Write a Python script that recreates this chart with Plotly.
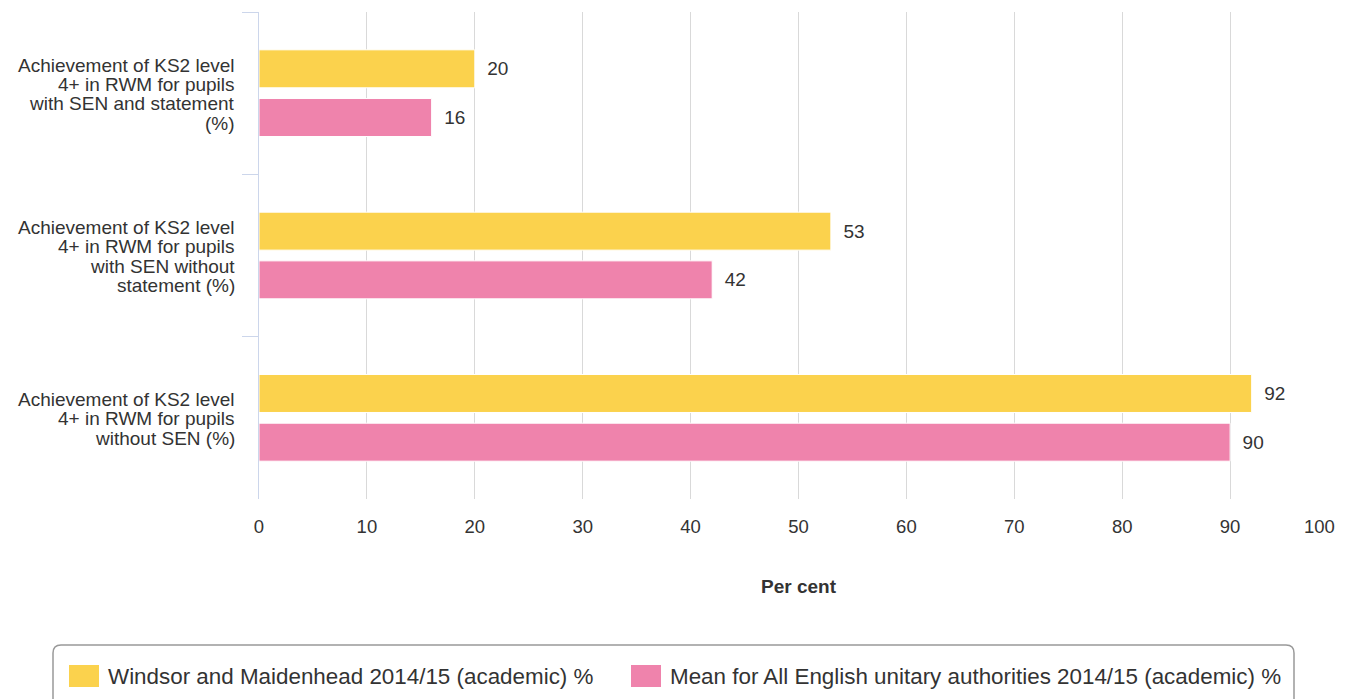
import plotly.graph_objects as go

# Data
categories = [
    "Achievement of KS2 level<br>4+ in RWM for pupils<br>with SEN and statement<br>(%)",
    "Achievement of KS2 level<br>4+ in RWM for pupils<br>with SEN without<br>statement (%)",
    "Achievement of KS2 level<br>4+ in RWM for pupils<br>without SEN (%)",
]
series_names = [
    "Windsor and Maidenhead 2014/15 (academic) %",
    "Mean for All English unitary authorities 2014/15 (academic) %",
]
windsor_values = [20, 53, 92]
mean_values = [16, 42, 90]
x_ticks = [0, 10, 20, 30, 40, 50, 60, 70, 80, 90, 100]

colors = ["#fbd24d", "#ef83ac"]
FONT = "Liberation Sans, Arial, sans-serif"
TEXT = "#333333"

W, H = 1346, 699
L, R, T, B = 259, 8, 12, 200
PW, PH = W - L - R, H - T - B
LINE_H = 19.4  # line height of the wrapped category labels


def px_x(px):
    return (px - L) / PW


def px_y(py):
    return (H - B - py) / PH


fig = go.Figure()
for name, vals, col in zip(series_names, [windsor_values, mean_values], colors):
    fig.add_trace(go.Bar(
        y=categories, x=vals, name=name, orientation="h",
        marker=dict(color=col, line=dict(color="#ffffff", width=1)),
        texttemplate="\u2002%{x}", textposition="outside",
        textfont=dict(family=FONT, size=19, color=TEXT),
        cliponaxis=False, showlegend=False, hoverinfo="x+name",
    ))

# Wrapped category labels, one text line per annotation for tight line spacing
annotations = []
for cat in categories:
    lines = cat.split("<br>")
    n = len(lines)
    for i, line in enumerate(lines):
        annotations.append(dict(
            xref="x", yref="y", x=0, y=cat, text=line, showarrow=False,
            xanchor="right", yanchor="middle", xshift=-22,
            yshift=((n - 1) / 2 - i) * LINE_H - 1,
            font=dict(family=FONT, size=19, color=TEXT)))

# Legend frame with rounded corners
r = 8
x0, x1, y0, y1 = px_x(53), px_x(1294), px_y(645), px_y(720)
rx, ry = r / PW, r / PH
path = (f"M {x0+rx},{y0} L {x1-rx},{y0} Q {x1},{y0} {x1},{y0-ry} "
        f"L {x1},{y1} L {x0},{y1} L {x0},{y0-ry} Q {x0},{y0} {x0+rx},{y0} Z")
shapes = [dict(type="path", xref="paper", yref="paper", path=path,
               line=dict(color="#999999", width=1.5), fillcolor="rgba(0,0,0,0)")]

legend_sq_left = [69, 631]
for name, col, sx in zip(series_names, colors, legend_sq_left):
    shapes.append(dict(type="rect", xref="paper", yref="paper",
                       x0=px_x(sx), x1=px_x(sx + 30), y0=px_y(665), y1=px_y(687),
                       fillcolor=col, line=dict(width=0)))
    annotations.append(dict(xref="paper", yref="paper", x=px_x(sx + 37), y=px_y(676),
                            text=name, showarrow=False, xanchor="left", yanchor="middle",
                            font=dict(family=FONT, size=22.4, color=TEXT)))

annotations.append(dict(xref="paper", yref="paper", x=0.5, y=px_y(586),
                        text="<b>Per cent</b>", showarrow=False,
                        xanchor="center", yanchor="middle",
                        font=dict(family=FONT, size=19, color=TEXT)))

# The last tick label is right-aligned to its gridline so it stays inside the chart
annotations.append(dict(xref="x", yref="paper", x=x_ticks[-1], y=px_y(526),
                        text=str(x_ticks[-1]), showarrow=False,
                        xanchor="right", yanchor="middle", xshift=-1,
                        font=dict(family=FONT, size=18.5, color=TEXT)))

fig.update_layout(
    width=W, height=H,
    margin=dict(l=L, r=R, t=T, b=B, autoexpand=False),
    paper_bgcolor="#ffffff", plot_bgcolor="#ffffff",
    barmode="group", bargap=0.4, bargroupgap=0.22,
    font=dict(family=FONT, size=18, color=TEXT),
    shapes=shapes, annotations=annotations,
    xaxis=dict(range=[0, 100], tickvals=x_ticks,
               ticktext=[str(v) for v in x_ticks[:-1]] + [""], showgrid=True,
               gridcolor="#d9d9d9", gridwidth=1, zeroline=False, showline=False,
               ticks="", ticklabelstandoff=14,
               tickfont=dict(family=FONT, size=18.5, color=TEXT)),
    yaxis=dict(autorange="reversed", type="category", showline=True,
               linecolor="#ccd6eb", linewidth=1, ticks="outside", tickson="boundaries",
               ticklen=16, tickcolor="#ccd6eb", tickwidth=1, showgrid=False,
               showticklabels=False),
)

fig.write_html("out.html")
